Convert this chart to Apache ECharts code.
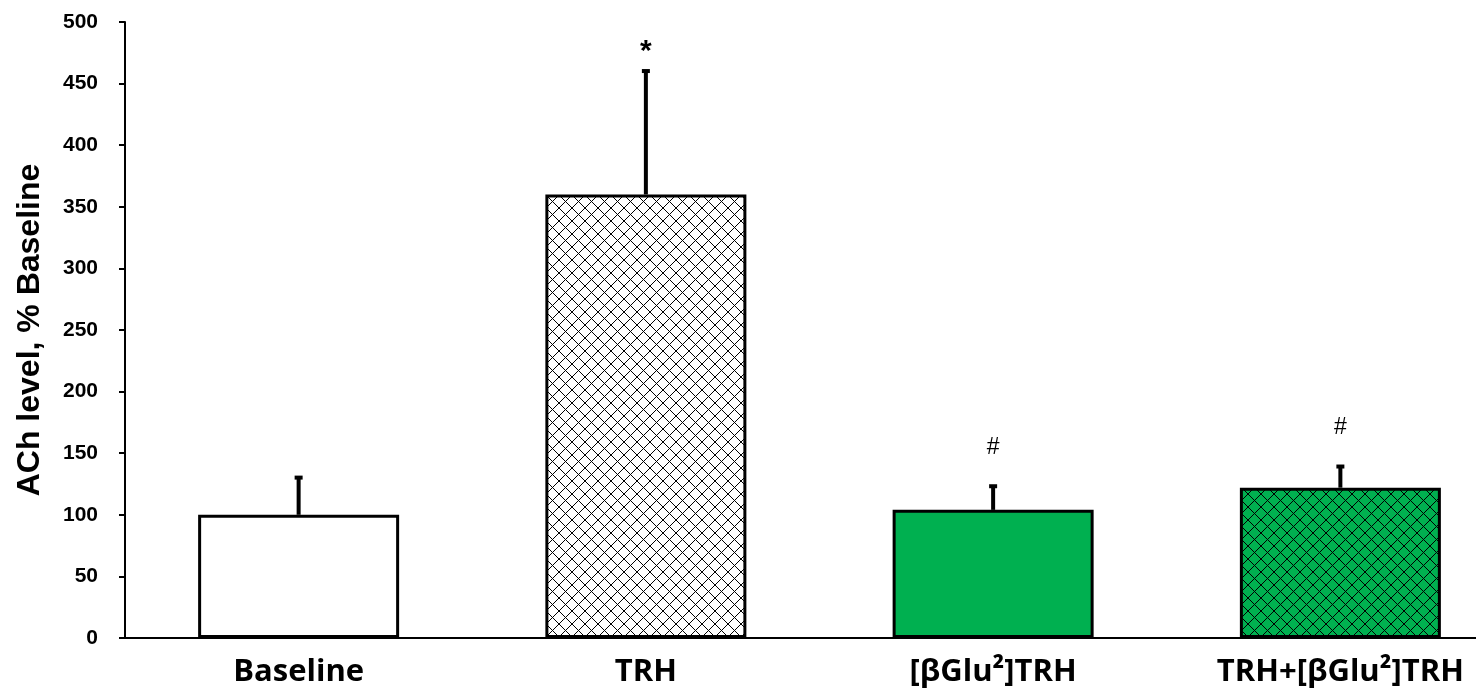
<!DOCTYPE html>
<html><head><meta charset="utf-8">
<script src="https://cdn.jsdelivr.net/npm/echarts@6/dist/echarts.min.js"></script>
<style>html,body{margin:0;padding:0;background:#fff}#c{width:1476px;height:690px}</style>
</head><body><div id="c"></div>
<script>
const categories = ['Baseline', 'TRH', '[βGlu²]TRH', 'TRH+[βGlu²]TRH'];
const means = [100, 360, 104, 122];
const errors = [31, 101, 20, 18];
const marks = ['', '*', '#', '#'];
const yTicks = [0, 50, 100, 150, 200, 250, 300, 350, 400, 450, 500];

function hatch(bg) {
  const s = 13, c = document.createElement('canvas');
  c.width = s; c.height = s;
  const g = c.getContext('2d');
  g.fillStyle = bg; g.fillRect(0, 0, s, s);
  g.strokeStyle = '#000'; g.lineWidth = 1;
  g.beginPath();
  g.moveTo(0, 0); g.lineTo(s, s);
  g.moveTo(s, 0); g.lineTo(0, s);
  g.stroke();
  return { image: c, repeat: 'repeat' };
}
const fills = ['#ffffff', hatch('#ffffff'), '#00b050', hatch('#00b050')];

const chart = echarts.init(document.getElementById('c'), null, { renderer: 'canvas' });
chart.setOption({
  animation: false,
  grid: { left: 125, right: -38, top: 22, bottom: 52, containLabel: false, outerBoundsMode: 'none' },
  xAxis: {
    type: 'category', data: categories,
    axisLine: { lineStyle: { color: '#000', width: 2 } },
    axisTick: { show: false },
    axisLabel: { color: '#000', fontFamily: 'Open Sans', fontWeight: 'bold', fontSize: 31, margin: 19 }
  },
  yAxis: {
    type: 'value', min: 0, max: 500, interval: 50,
    name: 'ACh level, % Baseline', nameLocation: 'middle', nameGap: 79,
    nameTextStyle: { color: '#000', fontFamily: 'Liberation Sans', fontWeight: 'bold', fontSize: 32 },
    axisLine: { show: true, lineStyle: { color: '#000', width: 2 } },
    axisTick: { show: true, length: 6, lineStyle: { color: '#000', width: 2 } },
    splitLine: { show: false },
    axisLabel: { color: '#000', fontFamily: 'Liberation Sans', fontWeight: 'bold', fontSize: 21, margin: 27,
      formatter: v => yTicks.includes(v) ? String(v) : '' }
  },
  series: [
    {
      type: 'bar', barWidth: 201,
      data: means.map((v, i) => ({ value: v, itemStyle: { color: fills[i] } })),
      itemStyle: { borderColor: '#000', borderWidth: 3 },
      z: 2
    },
    {
      type: 'custom', z: 3,
      data: means.map((v, i) => [i, v, v + errors[i]]),
      renderItem: function (params, api) {
        const i = api.value(0);
        const p0 = api.coord([i, api.value(1)]);
        const p1 = api.coord([i, api.value(2)]);
        const children = [
          { type: 'line', shape: { x1: p0[0], y1: p0[1], x2: p1[0], y2: p1[1] }, style: { stroke: '#000', lineWidth: 4 } },
          { type: 'line', shape: { x1: p1[0] - 4, y1: p1[1] + 1, x2: p1[0] + 4, y2: p1[1] + 1 }, style: { stroke: '#000', lineWidth: 4 } }
        ];
        const m = marks[params.dataIndex];
        if (m) {
          children.push({ type: 'text', style: { text: m, x: p1[0], y: p1[1] - (m === '*' ? 18 : 38), align: 'center', verticalAlign: 'middle',
            fill: '#000', font: (m === '*' ? 'bold 30px "Liberation Sans"' : '23px "Liberation Sans"') } });
        }
        return { type: 'group', children };
      }
    }
  ]
});
</script></body></html>
